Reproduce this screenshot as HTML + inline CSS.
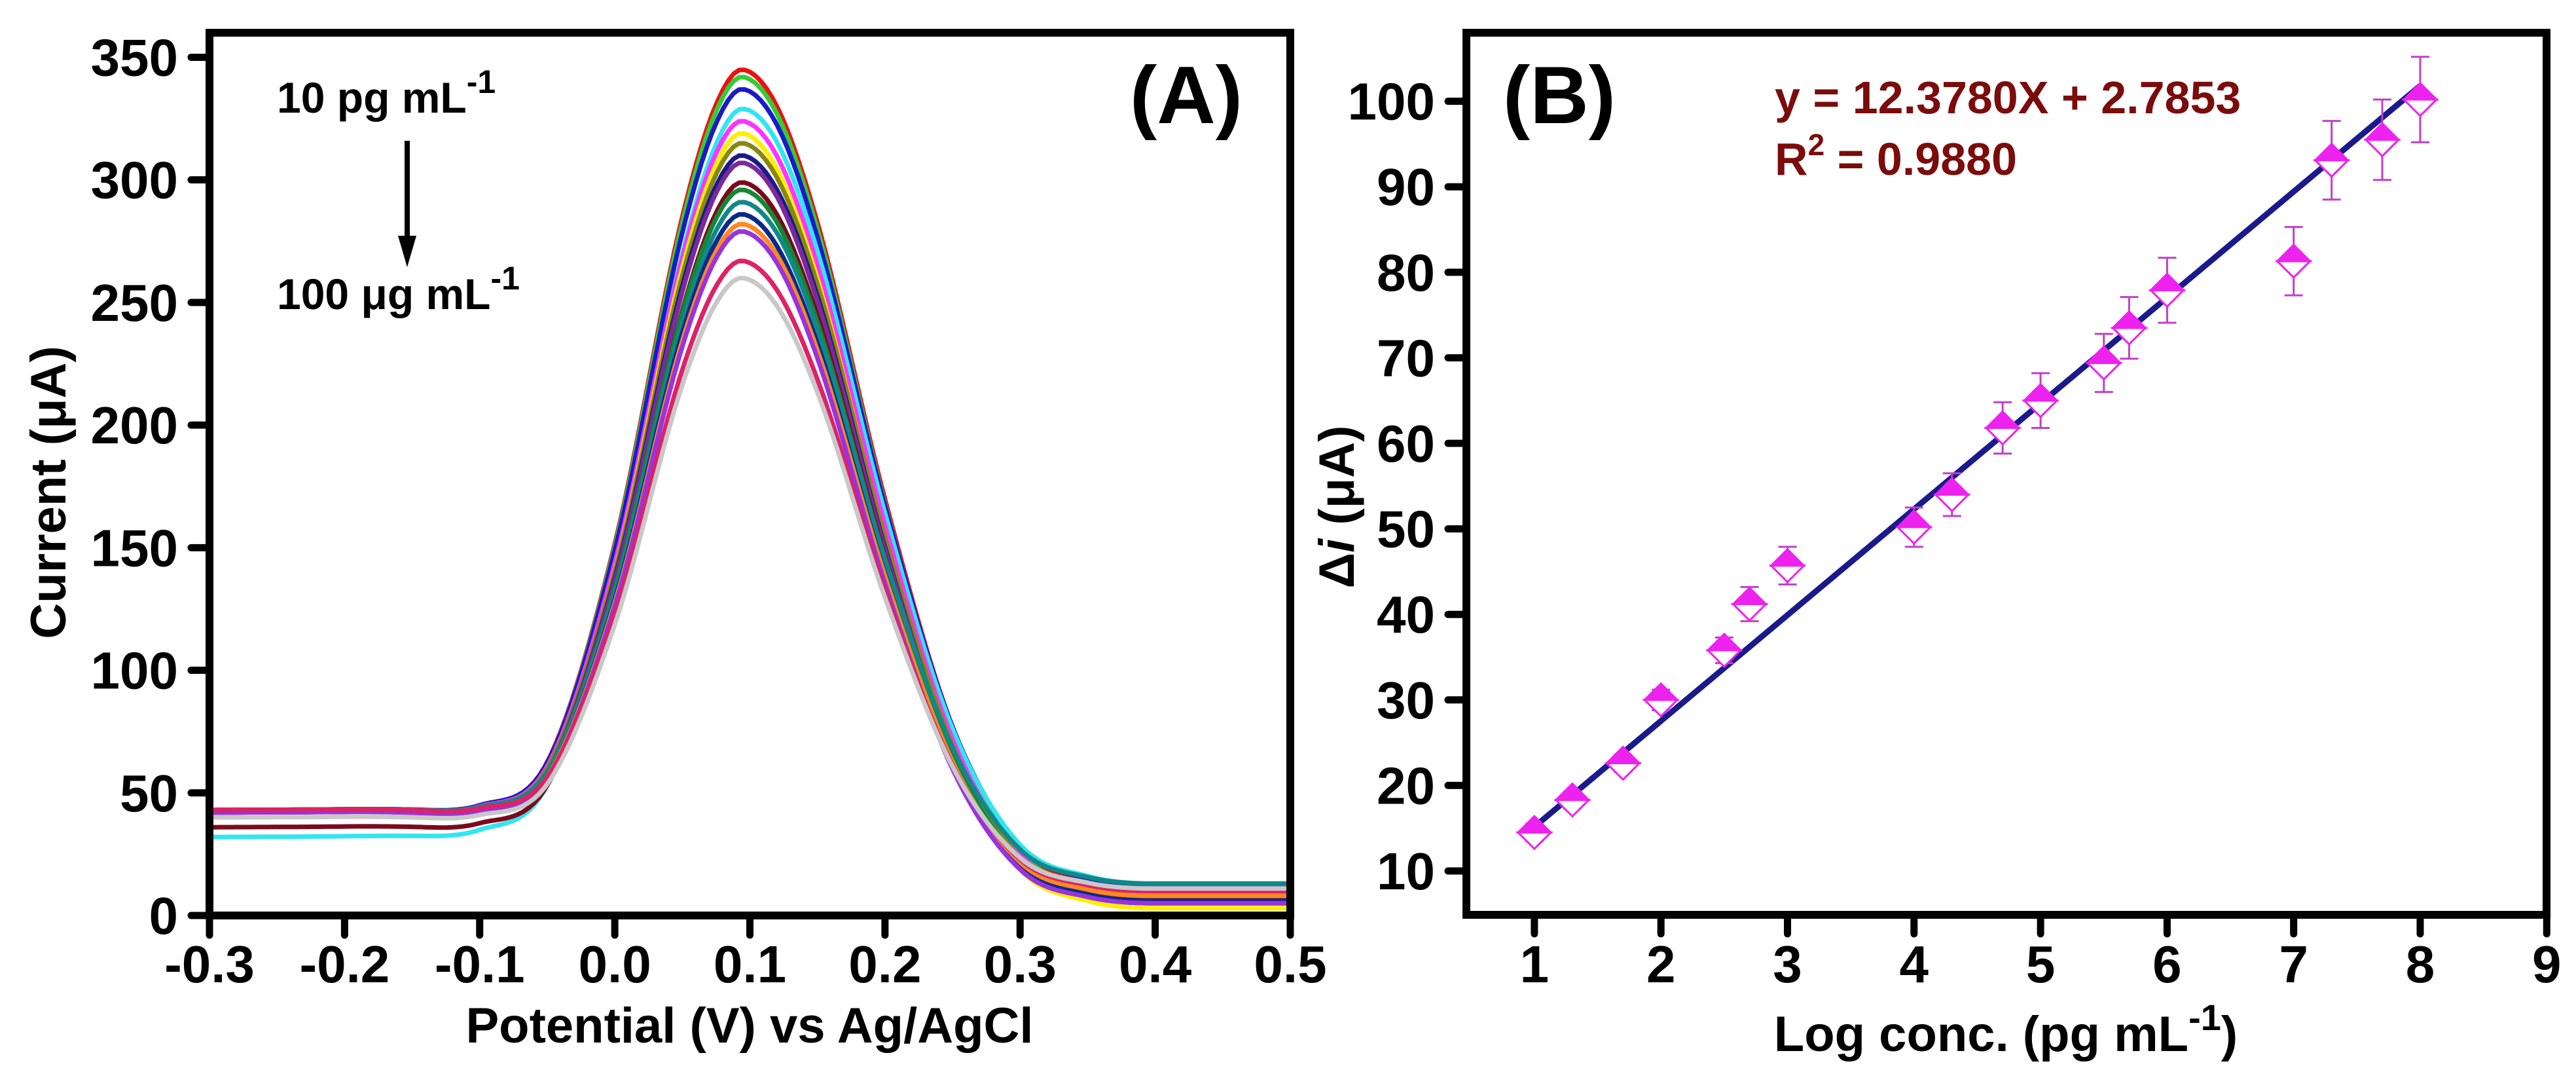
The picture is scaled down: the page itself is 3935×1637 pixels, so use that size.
<!DOCTYPE html>
<html><head><meta charset="utf-8"><style>
html,body{margin:0;padding:0;background:#fff}
svg{display:block}
text{font-family:"Liberation Sans",Arial,sans-serif;font-weight:bold}
</style></head><body>
<svg id="fig" xmlns="http://www.w3.org/2000/svg" width="3935" height="1637" viewBox="0 0 3935 1637">
<g id="pa"></g>
<g id="pb"></g>
</svg>
<script>
// ---------- Panel A data ----------
const aTicksX = [-0.3,-0.2,-0.1,0.0,0.1,0.2,0.3,0.4,0.5];
const aTickLabelsX = ["-0.3","-0.2","-0.1","0.0","0.1","0.2","0.3","0.4","0.5"];
const aTicksY = [0,50,100,150,200,250,300,350];
const shapeX = [-0.3,-0.15,-0.1,-0.05,0,0.05,0.075,0.095,0.12,0.15,0.2,0.25,0.3,0.35,0.4,0.5];
const shapeF = [0,0.003,0.015,0.08,0.37,0.8,0.95,1,0.96,0.82,0.48,0.2,0.05,0.01,0,0];
const curveColors = ["#ee1111","#33cc33","#1a1acc","#33e5f0","#ff33ff","#ffee00","#888811","#1a1a88","#7a2a9a","#7a0a1a","#118833","#118888","#0a2a8a","#ff8822","#9933dd","#dd2266","#c8c8c8"];
const curvePeaks = [345,342,337,329,324,319,315,310,307,299,296,291,286,282,279,267,260];
const curveLeft = [43,43,43,32,43,42,43,42,42,36,43,43,42,42,42,43,40];
const curveRight = [10,9,12,13,9,3,8,5,6,7,8,13,6,8,5,10,11];

// ---------- Panel B data ----------
const bTicksX = [1,2,3,4,5,6,7,8,9];
const bTicksY = [10,20,30,40,50,60,70,80,90,100];
const bLogConc = [1,1.3,1.7,2,2.5,2.7,3,4,4.3,4.7,5,5.5,5.7,6,7,7.3,7.7,8];
const bDeltaI = [14.5,18.3,22.6,30,35.8,41.2,45.7,50.2,54,61.8,65,69.4,73.5,77.9,81.3,93.1,95.5,100.2];
const bErr = [1,1,1,1.2,1.5,2,2.2,2.3,2.5,3,3.2,3.4,3.6,3.8,4,4.6,4.7,5];
const fitSlope = 12.378, fitIntercept = 2.7853;
const fitRange = [1,8];

const NS="http://www.w3.org/2000/svg";
function mk(parent,tag,attrs,txt){const e=document.createElementNS(NS,tag);for(const k in attrs)e.setAttribute(k,attrs[k]);if(txt!==undefined)e.textContent=txt;parent.appendChild(e);return e;}

// ---------- Panel A ----------
const pa=document.getElementById('pa');
const AX0=320,AX1=1971,AY0=1398,AY1=50;
const axX=v=>AX0+(v+0.3)/0.8*(AX1-AX0);
const axY=v=>AY0-(v/360)*(AY0-AY1);
function interp(xs,fs,x){
  let n=xs.length; if(x<=xs[0])return fs[0]; if(x>=xs[n-1])return fs[n-1];
  let i=0; while(x>xs[i+1])i++;
  const d=[];for(let k=0;k<n-1;k++)d.push((fs[k+1]-fs[k])/(xs[k+1]-xs[k]));
  const m=[d[0]];for(let k=1;k<n-1;k++){m.push(d[k-1]*d[k]<=0?0:(d[k-1]+d[k])/2);}m.push(d[n-2]);
  for(let k=0;k<n-1;k++){if(d[k]===0){m[k]=0;m[k+1]=0;}else{const a=m[k]/d[k],b=m[k+1]/d[k],s=a*a+b*b;if(s>9){const t=3/Math.sqrt(s);m[k]=t*a*d[k];m[k+1]=t*b*d[k];}}}
  const h=xs[i+1]-xs[i],t=(x-xs[i])/h,t2=t*t,t3=t2*t;
  return (2*t3-3*t2+1)*fs[i]+(t3-2*t2+t)*h*m[i]+(-2*t3+3*t2)*fs[i+1]+(t3-t2)*h*m[i+1];
}
function blend(x){let t=Math.min(1,Math.max(0,(x+0.2)/0.55));return t*t*(3-2*t);}
const curvesG=mk(pa,'g',{});


for(let c=0;c<curvePeaks.length;c++){
  let d='';
  const b95=curveLeft[c]+(curveRight[c]-curveLeft[c])*blend(0.095);
  for(let x=-0.3;x<=0.5001;x+=0.004){
    const base=curveLeft[c]+(curveRight[c]-curveLeft[c])*blend(x);
    const y=base+(curvePeaks[c]-b95)*interp(shapeX,shapeF,x);
    d+=(d?'L':'M')+axX(x).toFixed(1)+','+axY(y).toFixed(1);
  }
  const p=mk(curvesG,'path',{d:d,fill:'none',stroke:curveColors[c],'stroke-width':7,'stroke-linejoin':'round'});
  
  
}
const fa=mk(pa,'rect',{x:AX0,y:AY1,width:AX1-AX0,height:AY0-AY1,fill:'none',stroke:'#000','stroke-width':12});


aTicksX.forEach((v,i)=>{
  const x=axX(v);
  mk(pa,'line',{x1:x,y1:AY0,x2:x,y2:1428,stroke:'#000','stroke-width':11,'stroke-linecap':'round'});
  const t=mk(pa,'text',{x:x,y:1500,'font-size':80,'text-anchor':'middle'},aTickLabelsX[i]);
  
  
});
aTicksY.forEach(v=>{
  const y=axY(v);
  mk(pa,'line',{x1:AX0,y1:y,x2:292,y2:y,stroke:'#000','stroke-width':11,'stroke-linecap':'round'});
  const t=mk(pa,'text',{x:272,y:y+28,'font-size':80,'text-anchor':'end'},String(v));
  
  
});
</script>
<script>
(function(){
const pa=document.getElementById('pa');
pa.insertAdjacentHTML('beforeend',
 '<text x="1145" y="1592" font-size="76" text-anchor="middle">Potential (V) vs Ag/AgCl</text>'+
 '<text transform="translate(100,752) rotate(-90)" font-size="76" text-anchor="middle">Current (μA)</text>'+
 '<text x="1812" y="188" font-size="124" text-anchor="middle">(A)</text>'+
 '<text x="423" y="172" font-size="66">10 pg mL<tspan font-size="50" dy="-30">-1</tspan></text>'+
 '<text x="423" y="472" font-size="66">100 μg mL<tspan font-size="50" dy="-30">-1</tspan></text>'+
 '<line x1="622" y1="215" x2="622" y2="370" stroke="#000" stroke-width="8"/>'+
 '<polygon points="608,360 636,360 622,408" fill="#000"/>');
})();
</script>
<script>
(function(){
const pb=document.getElementById('pb');
const BX0=2240,BX1=3890,BY0=1397,BY1=50;
const bxX=v=>3697+(v-8)*193.3;
const byY=v=>1330-(v-10)*13.06;
const fit=mk(pb,'line',{x1:bxX(fitRange[0]),y1:byY(fitSlope*fitRange[0]+fitIntercept),x2:bxX(fitRange[1]),y2:byY(fitSlope*fitRange[1]+fitIntercept),stroke:'#1a1a8c','stroke-width':9});


for(let i=0;i<bLogConc.length;i++){
  const g=mk(pb,'g',{});
  
  
  const x=bxX(bLogConc[i]),y=byY(bDeltaI[i]),yt=byY(bDeltaI[i]+bErr[i]),yb=byY(bDeltaI[i]-bErr[i]);
  mk(g,'line',{x1:x,y1:yt,x2:x,y2:yb,stroke:'#c040c8','stroke-width':3});
  mk(g,'line',{x1:x-14,y1:yt,x2:x+14,y2:yt,stroke:'#c040c8','stroke-width':3});
  mk(g,'line',{x1:x-14,y1:yb,x2:x+14,y2:yb,stroke:'#c040c8','stroke-width':3});
  const r=25;
  mk(g,'polygon',{points:`${x},${y+r} ${x-r},${y} ${x+r},${y}`,fill:'#fff',stroke:'#ee22ee','stroke-width':3});
  mk(g,'polygon',{points:`${x},${y-r} ${x-r},${y} ${x+r},${y}`,fill:'#ee22ee',stroke:'#ee22ee','stroke-width':3});
}
const fb=mk(pb,'rect',{x:BX0,y:BY1,width:BX1-BX0,height:BY0-BY1,fill:'none',stroke:'#000','stroke-width':12});


bTicksX.forEach(v=>{
  const x=bxX(v);
  mk(pb,'line',{x1:x,y1:BY0,x2:x,y2:1426,stroke:'#000','stroke-width':11,'stroke-linecap':'round'});
  const t=mk(pb,'text',{x:x,y:1500,'font-size':80,'text-anchor':'middle'},String(v));
  
  
});
bTicksY.forEach(v=>{
  const y=byY(v);
  mk(pb,'line',{x1:BX0,y1:y,x2:2212,y2:y,stroke:'#000','stroke-width':11,'stroke-linecap':'round'});
  const t=mk(pb,'text',{x:2192,y:y+28,'font-size':80,'text-anchor':'end'},String(v));
  
  
});
pb.insertAdjacentHTML('beforeend',
 '<text x="3064" y="1605" font-size="76" text-anchor="middle">Log conc. (pg mL<tspan font-size="56" dy="-32">-1</tspan><tspan dy="32">)</tspan></text>'+
 '<text transform="translate(2068,774) rotate(-90)" font-size="76" text-anchor="middle">Δ<tspan font-style="italic">i</tspan> (μA)</text>'+
 '<text x="2382" y="188" font-size="124" text-anchor="middle">(B)</text>'+
 '<text x="2711" y="173" font-size="70" fill="#7b0c0c">y = 12.3780X + 2.7853</text>'+
 '<text x="2711" y="267" font-size="70" fill="#7b0c0c">R<tspan font-size="46" dy="-30">2</tspan><tspan dy="30"> = 0.9880</tspan></text>');
})();
</script>
</body></html>
